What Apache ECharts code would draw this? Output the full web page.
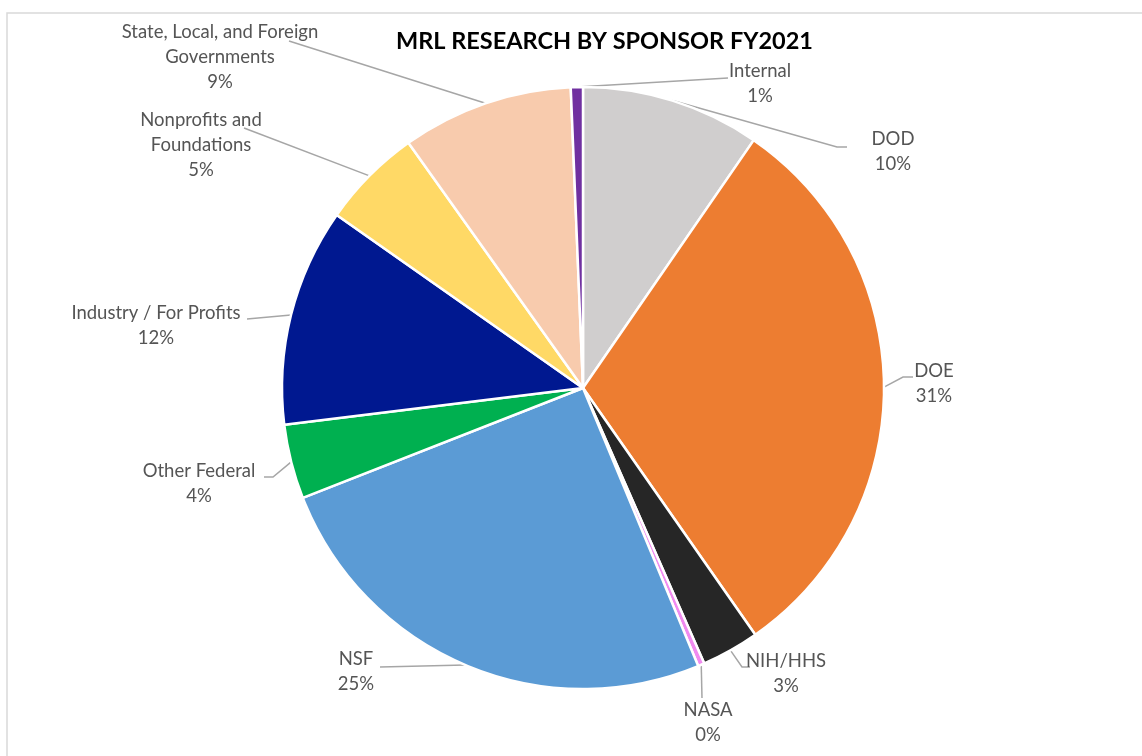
<!DOCTYPE html>
<html>
<head>
<meta charset="utf-8">
<script src="https://cdn.jsdelivr.net/npm/echarts@6/dist/echarts.min.js"></script>
<style>
html,body{margin:0;padding:0;background:#ffffff;}
#chart{width:1142px;height:756px;}
</style>
</head>
<body>
<div id="chart"></div>
<script>
// ---- data ----
const titleText = 'MRL RESEARCH BY SPONSOR FY2021';
const categories = [
  'DOD',
  'DOE',
  'NIH/HHS',
  'NASA',
  'NSF',
  'Other Federal',
  'Industry / For Profits',
  'Nonprofits and\nFoundations',
  'State, Local, and Foreign\nGovernments',
  'Internal'
];
const shares = [9.6, 30.7, 3.1, 0.35, 25.3, 4.0, 11.7, 5.4, 9.2, 0.65];
const sliceColors = ['#D0CECE', '#ED7D31', '#262626', '#F08AF0', '#5B9BD5',
                     '#00B050', '#001890', '#FFD966', '#F8CBAD', '#7030A0'];

// ---- label layout (text placement only) ----
const labelSpots = [
  {x: 893, y: 152, line: [[837, 147], [847, 147]]},
  {x: 934, y: 384, line: [[903, 377], [913, 377]]},
  {x: 786, y: 674, line: [[742, 667], [750, 667]]},
  {x: 708, y: 723, line: [[702, 698]]},
  {x: 356, y: 672, line: [[380, 667]]},
  {x: 199, y: 484, line: [[273, 477], [264, 477]]},
  {x: 156, y: 326, line: [[247, 319]]},
  {x: 201, y: 145, line: [[244, 128]]},
  {x: 220, y: 57,  line: [[289, 41]]},
  {x: 760, y: 84,  line: [[728, 78]]}
];

const chart = echarts.init(document.getElementById('chart'), null, {renderer: 'canvas'});
const fontFam = 'Lato, "Open Sans", "Noto Sans", sans-serif';

const pieData = categories.map(function (c, i) {
  return {name: c, value: shares[i], itemStyle: {color: sliceColors[i]}};
});

chart.setOption({
  animation: false,
  backgroundColor: '#ffffff',
  graphic: [{
    type: 'rect',
    silent: true,
    shape: {x: 7, y: 13, width: 1300, height: 900},
    style: {fill: 'none', stroke: '#d9d9d9', lineWidth: 1.5}
  }],
  title: {
    text: titleText,
    left: 391,
    top: 24,
    textStyle: {fontFamily: fontFam, fontWeight: 'bold', fontSize: 23.5, color: '#000000'}
  },
  series: [{
    type: 'pie',
    center: [583, 388],
    radius: 301,
    startAngle: 90,
    clockwise: true,
    avoidLabelOverlap: false,
    data: pieData,
    itemStyle: {borderColor: '#ffffff', borderWidth: 2.5},
    emphasis: {disabled: true},
    label: {
      show: true,
      position: 'outside',
      fontFamily: fontFam,
      fontSize: 18.5,
      lineHeight: 25,
      color: '#555555',
      formatter: function (p) {
        return p.name + '\n' + Math.round(p.percent) + '%';
      }
    },
    labelLine: {
      show: true,
      length: 20,
      length2: 10,
      lineStyle: {color: '#a6a6a6', width: 1.5}
    },
    labelLayout: function (p) {
      const s = labelSpots[p.dataIndex];
      const start = (p.labelLinePoints && p.labelLinePoints[0]) ? p.labelLinePoints[0] : null;
      const res = {x: s.x, y: s.y, align: 'center', verticalAlign: 'middle'};
      if (start) {
        res.labelLinePoints = [start].concat(s.line);
      }
      return res;
    }
  }]
});
</script>
</body>
</html>
